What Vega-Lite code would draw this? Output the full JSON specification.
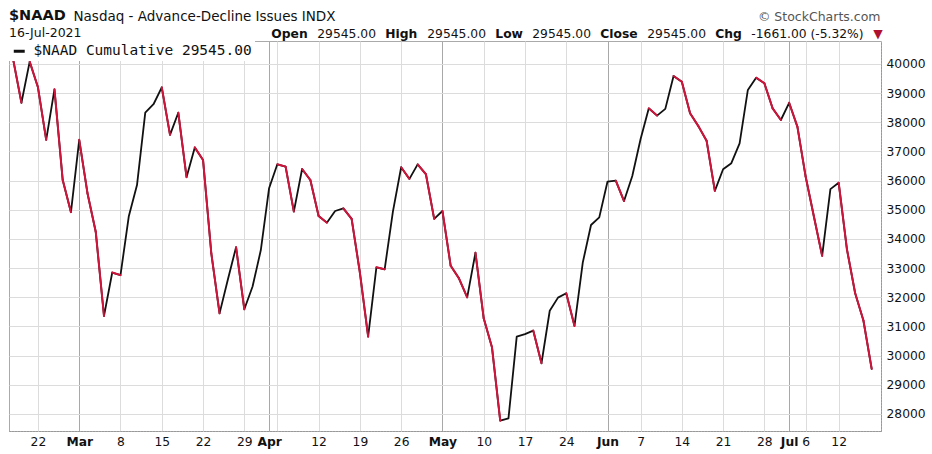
{
  "$schema": "https://vega.github.io/schema/vega-lite/v6.json",
  "width": 872,
  "height": 390,
  "autosize": {"type": "none"},
  "padding": {"left": 9, "top": 41, "right": 51, "bottom": 23},
  "background": "white",
  "config": {
    "view": {"stroke": "#aaaaaa"},
    "font": "DejaVu Sans"
  },
  "title": {
    "text": "$NAAD",
    "subtitle": "16-Jul-2021",
    "anchor": "start",
    "frame": "group",
    "font": "DejaVu Sans",
    "fontSize": 14.5,
    "fontWeight": "bold",
    "color": "#111111",
    "subtitleFont": "DejaVu Sans",
    "subtitleFontSize": 12.5,
    "subtitleColor": "#111111",
    "subtitlePadding": 3,
    "offset": 2,
    "dy": 33
  },
  "data": {
    "values": [
      {"date": "2021-02-17", "value": 40150},
      {"date": "2021-02-18", "value": 38670},
      {"date": "2021-02-19", "value": 40080},
      {"date": "2021-02-22", "value": 39200},
      {"date": "2021-02-23", "value": 37400},
      {"date": "2021-02-24", "value": 39130},
      {"date": "2021-02-25", "value": 36020},
      {"date": "2021-02-26", "value": 34920},
      {"date": "2021-03-01", "value": 37400},
      {"date": "2021-03-02", "value": 35570},
      {"date": "2021-03-03", "value": 34250},
      {"date": "2021-03-04", "value": 31360},
      {"date": "2021-03-05", "value": 32850},
      {"date": "2021-03-08", "value": 32760},
      {"date": "2021-03-09", "value": 34770},
      {"date": "2021-03-10", "value": 35850},
      {"date": "2021-03-11", "value": 38330},
      {"date": "2021-03-12", "value": 38620},
      {"date": "2021-03-15", "value": 39200},
      {"date": "2021-03-16", "value": 37570},
      {"date": "2021-03-17", "value": 38330},
      {"date": "2021-03-18", "value": 36120},
      {"date": "2021-03-19", "value": 37140},
      {"date": "2021-03-22", "value": 36710},
      {"date": "2021-03-23", "value": 33510},
      {"date": "2021-03-24", "value": 31450},
      {"date": "2021-03-25", "value": 32600},
      {"date": "2021-03-26", "value": 33720},
      {"date": "2021-03-29", "value": 31590},
      {"date": "2021-03-30", "value": 32370},
      {"date": "2021-03-31", "value": 33620},
      {"date": "2021-04-01", "value": 35740},
      {"date": "2021-04-05", "value": 36560},
      {"date": "2021-04-06", "value": 36480},
      {"date": "2021-04-07", "value": 34940},
      {"date": "2021-04-08", "value": 36400},
      {"date": "2021-04-09", "value": 36020},
      {"date": "2021-04-12", "value": 34790},
      {"date": "2021-04-13", "value": 34560},
      {"date": "2021-04-14", "value": 34960},
      {"date": "2021-04-15", "value": 35050},
      {"date": "2021-04-16", "value": 34690},
      {"date": "2021-04-19", "value": 32850},
      {"date": "2021-04-20", "value": 30650},
      {"date": "2021-04-21", "value": 33030},
      {"date": "2021-04-22", "value": 32960},
      {"date": "2021-04-23", "value": 34940},
      {"date": "2021-04-26", "value": 36460},
      {"date": "2021-04-27", "value": 36060},
      {"date": "2021-04-28", "value": 36560},
      {"date": "2021-04-29", "value": 36220},
      {"date": "2021-04-30", "value": 34690},
      {"date": "2021-05-03", "value": 34960},
      {"date": "2021-05-04", "value": 33080},
      {"date": "2021-05-05", "value": 32650},
      {"date": "2021-05-06", "value": 32000},
      {"date": "2021-05-07", "value": 33530},
      {"date": "2021-05-10", "value": 31280},
      {"date": "2021-05-11", "value": 30290},
      {"date": "2021-05-12", "value": 27770},
      {"date": "2021-05-13", "value": 27850},
      {"date": "2021-05-14", "value": 30650},
      {"date": "2021-05-17", "value": 30740},
      {"date": "2021-05-18", "value": 30860},
      {"date": "2021-05-19", "value": 29740},
      {"date": "2021-05-20", "value": 31540},
      {"date": "2021-05-21", "value": 31990},
      {"date": "2021-05-24", "value": 32140},
      {"date": "2021-05-25", "value": 31020},
      {"date": "2021-05-26", "value": 33190},
      {"date": "2021-05-27", "value": 34480},
      {"date": "2021-05-28", "value": 34740},
      {"date": "2021-06-01", "value": 35970},
      {"date": "2021-06-02", "value": 36000},
      {"date": "2021-06-03", "value": 35300},
      {"date": "2021-06-04", "value": 36160},
      {"date": "2021-06-07", "value": 37420},
      {"date": "2021-06-08", "value": 38480},
      {"date": "2021-06-09", "value": 38230},
      {"date": "2021-06-10", "value": 38460},
      {"date": "2021-06-11", "value": 39590},
      {"date": "2021-06-14", "value": 39390},
      {"date": "2021-06-15", "value": 38310},
      {"date": "2021-06-16", "value": 37870},
      {"date": "2021-06-17", "value": 37370},
      {"date": "2021-06-18", "value": 35650},
      {"date": "2021-06-21", "value": 36390},
      {"date": "2021-06-22", "value": 36600},
      {"date": "2021-06-23", "value": 37280},
      {"date": "2021-06-24", "value": 39110},
      {"date": "2021-06-25", "value": 39530},
      {"date": "2021-06-28", "value": 39340},
      {"date": "2021-06-29", "value": 38480},
      {"date": "2021-06-30", "value": 38080},
      {"date": "2021-07-01", "value": 38670},
      {"date": "2021-07-02", "value": 37850},
      {"date": "2021-07-06", "value": 36140},
      {"date": "2021-07-07", "value": 34770},
      {"date": "2021-07-08", "value": 33420},
      {"date": "2021-07-09", "value": 35710},
      {"date": "2021-07-12", "value": 35930},
      {"date": "2021-07-13", "value": 33650},
      {"date": "2021-07-14", "value": 32140},
      {"date": "2021-07-15", "value": 31206},
      {"date": "2021-07-16", "value": 29545}
    ]
  },
  "encoding": {
    "x": {
      "field": "date",
      "type": "ordinal",
      "scale": {"type": "point", "padding": 0.818, "align": 0.31},
      "axis": {
        "values": ["2021-02-22","2021-03-01","2021-03-08","2021-03-15","2021-03-22","2021-03-29","2021-04-01","2021-04-05","2021-04-12","2021-04-19","2021-04-26","2021-05-03","2021-05-10","2021-05-17","2021-05-24","2021-06-01","2021-06-07","2021-06-14","2021-06-21","2021-06-28","2021-07-01","2021-07-06","2021-07-12"],
        "labelExpr": "datum.value=='2021-03-01'?'Mar':datum.value=='2021-04-01'?'Apr':datum.value=='2021-05-03'?'May':datum.value=='2021-06-01'?'Jun':datum.value=='2021-07-01'?'Jul':datum.value=='2021-04-05'?'':''+toNumber(substring(datum.value,8,10))",
        "labelAngle": 0,
        "labelOverlap": false,
        "labelFont": "DejaVu Sans",
        "labelFontSize": 12.3,
        "labelColor": "#111111",
        "labelFontWeight": {"condition": {"test": "indexof(['2021-03-01','2021-04-01','2021-05-03','2021-06-01','2021-07-01'], datum.value) >= 0", "value": "bold"}, "value": "normal"},
        "labelPadding": 4,
        "ticks": false,
        "domain": true,
        "domainColor": "#888888",
        "domainDash": [1, 2],
        "grid": true,
        "gridColor": {"condition": {"test": "indexof(['2021-03-01','2021-04-01','2021-05-03','2021-06-01','2021-07-01'], datum.value) >= 0", "value": "#a8a8a8"}, "value": "#dcdcdc"},
        "gridWidth": 1,
        "title": "Nasdaq - Advance-Decline Issues INDX",
        "titleFont": "DejaVu Sans",
        "titleFontSize": 13.5,
        "titleFontWeight": "normal",
        "titleColor": "#111111",
        "titleX": 64,
        "titleY": -411,
        "titleAlign": "left",
        "titleAnchor": "start",
        "titleBaseline": "alphabetic",
        "titleAngle": 0
      }
    },
    "y": {
      "field": "value",
      "type": "quantitative",
      "scale": {"domain": [27417, 40788], "nice": false, "zero": false},
      "axis": {
        "orient": "right",
        "values": [28000, 29000, 30000, 31000, 32000, 33000, 34000, 35000, 36000, 37000, 38000, 39000, 40000],
        "format": "d",
        "labelFont": "DejaVu Sans",
        "labelFontSize": 12.3,
        "labelColor": "#111111",
        "labelPadding": 5,
        "ticks": false,
        "domain": true,
        "domainColor": "#888888",
        "domainDash": [1, 2],
        "grid": true,
        "gridColor": "#dcdcdc",
        "title": "© StockCharts.com",
        "titleFont": "DejaVu Sans",
        "titleFontSize": 12.5,
        "titleFontWeight": "normal",
        "titleColor": "#555555",
        "titleX": -1,
        "titleY": -21,
        "titleAlign": "right",
        "titleBaseline": "alphabetic",
        "titleAngle": 0
      }
    }
  },
  "layer": [
    {
      "mark": {"type": "line", "strokeWidth": 1.8, "strokeJoin": "round", "strokeCap": "round"},
      "encoding": {
        "stroke": {
          "datum": "$NAAD Cumulative 29545.00",
          "type": "nominal",
          "scale": {"range": ["#111111"]},
          "legend": {
            "orient": "top-left",
            "offset": 0,
            "title": null,
            "fillColor": "white",
            "padding": 3,
            "symbolType": "stroke",
            "symbolStrokeWidth": 3,
            "symbolSize": 120,
            "labelFont": "DejaVu Sans Mono",
            "labelFontSize": 14.5,
            "labelColor": "#111111",
            "labelOffset": 7,
            "labelLimit": 0
          }
        }
      }
    },
    {
      "transform": [
        {"window": [{"op": "lag", "field": "value", "as": "prev"}, {"op": "lag", "field": "date", "as": "prevDate"}], "sort": [{"field": "date"}]},
        {"filter": "datum.prev != null && datum.value < datum.prev"}
      ],
      "mark": {"type": "rule", "strokeWidth": 2, "strokeCap": "round", "color": "#d0143c"},
      "encoding": {
        "x2": {"field": "prevDate"},
        "y2": {"field": "prev"}
      }
    },
    {
      "mark": {"type": "point", "opacity": 0},
      "encoding": {
        "x": {"field": "date", "type": "ordinal"},
        "shape": {
          "datum": "0",
          "type": "nominal",
          "scale": {"domain": ["0","1","2","3","4","5","6","7","8","9","10"], "range": ["circle","circle","circle","circle","circle","circle","circle","circle","circle","circle","circle"]},
          "legend": {
            "orient": "none",
            "legendX": 262,
            "legendY": -13,
            "direction": "horizontal",
            "title": null,
            "symbolSize": 0.01,
            "symbolOpacity": 0,
            "symbolStrokeWidth": 0,
            "labelOffset": -12,
            "columnPadding": 9,
            "gridAlign": "none",
            "padding": 0,
            "labelFont": "DejaVu Sans",
            "labelFontSize": 12.3,
            "labelLimit": 400,
            "labelExpr": "['Open','29545.00','High','29545.00','Low','29545.00','Close','29545.00','Chg','-1661.00 (-5.32%)','▼'][toNumber(datum.value)]",
            "labelFontWeight": {"expr": "indexof(['0','2','4','6','8'], datum.value) >= 0 ? 'bold' : 'normal'"},
            "labelColor": {"expr": "datum.value == '10' ? '#b0102f' : '#111111'"}
          }
        }
      }
    }
  ]
}
